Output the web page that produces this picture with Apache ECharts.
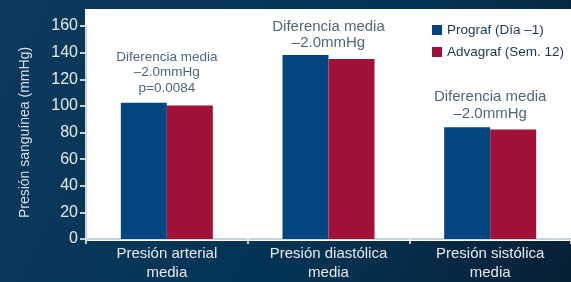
<!DOCTYPE html>
<html>
<head>
<meta charset="utf-8">
<script src="https://cdn.jsdelivr.net/npm/echarts@6/dist/echarts.min.js"></script>
<style>
  html, body { margin: 0; padding: 0; }
  #main { width: 571px; height: 282px; }
</style>
</head>
<body>
<div id="main"></div>
<script>
var categories = ['Presión arterial\nmedia', 'Presión diastólica\nmedia', 'Presión sistólica\nmedia'];
var prograf = [102.4, 138.3, 84.0];
var advagraf = [100.2, 135.3, 82.2];
var notes = ['Diferencia media\n–2.0mmHg\np=0.0084', 'Diferencia media\n–2.0mmHg', 'Diferencia media\n–2.0mmHg'];
var yTicks = [0, 160, 20];

var chartDom = document.getElementById('main');
var myChart = echarts.init(chartDom);
var font = 'Liberation Sans, Arial, sans-serif';

// note text sizes differ a bit per group in the original
var noteStyle = [
    { fontSize: 13.5, lineHeight: 15.5, distance: 7 },
    { fontSize: 15, lineHeight: 16, distance: 4 },
    { fontSize: 15, lineHeight: 17, distance: 5 }
];

var option = {
    backgroundColor: {
        type: 'linear', x: 0, y: 0, x2: 1, y2: 1,
        colorStops: [
            { offset: 0, color: '#0b3a5c' },
            { offset: 0.6, color: '#033354' },
            { offset: 1, color: '#071f35' }
        ]
    },
    textStyle: { fontFamily: font },
    graphic: [{
        type: 'rect',
        z: 0,
        shape: { x: 85, y: 9, width: 486, height: 232 },
        style: { fill: '#ffffff' },
        silent: true
    }],
    legend: {
        data: ['Prograf (Día –1)', 'Advagraf (Sem. 12)'],
        orient: 'vertical',
        left: 427,
        top: 17,
        icon: 'rect',
        itemWidth: 10,
        itemHeight: 10,
        itemGap: 6,
        textStyle: { color: '#173650', fontSize: 13.5, lineHeight: 16, fontFamily: font }
    },
    grid: { left: 86, right: 0, top: 26, bottom: 41.5 },
    xAxis: {
        type: 'category',
        data: categories,
        axisLine: { lineStyle: { color: '#b7c6d3', width: 1.5 } },
        axisTick: { show: true, length: 5, lineStyle: { color: '#ffffff', width: 1.5 } },
        axisLabel: { color: '#e6eaee', fontSize: 15, lineHeight: 19, margin: 5, fontFamily: font }
    },
    yAxis: {
        type: 'value',
        min: yTicks[0],
        max: yTicks[1],
        interval: yTicks[2],
        name: 'Presión sanguínea (mmHg)',
        nameLocation: 'middle',
        nameGap: 54,
        nameTextStyle: { color: '#d8dee4', fontSize: 14, fontFamily: font },
        axisLine: { show: true, lineStyle: { color: '#b7c6d3', width: 1.5 } },
        axisTick: { show: true, length: 6, lineStyle: { color: '#ffffff', width: 1.5 } },
        axisLabel: { color: '#e6eaee', fontSize: 16, margin: 8, fontFamily: font },
        splitLine: { show: false }
    },
    series: [
        {
            name: 'Prograf (Día –1)',
            type: 'bar',
            data: prograf,
            barWidth: 46,
            barGap: '0%',
            itemStyle: { color: '#02467f' }
        },
        {
            name: 'Advagraf (Sem. 12)',
            type: 'bar',
            data: advagraf,
            barWidth: 46,
            barGap: '0%',
            itemStyle: { color: '#a21138' }
        },
        {
            name: 'notes',
            type: 'scatter',
            silent: true,
            symbolSize: 0,
            z: 5,
            data: categories.map(function (c, i) {
                return {
                    value: [i, Math.max(prograf[i], advagraf[i])],
                    label: {
                        show: true,
                        position: 'top',
                        distance: noteStyle[i].distance,
                        formatter: notes[i],
                        color: '#22405a',
                        fontSize: noteStyle[i].fontSize,
                        lineHeight: noteStyle[i].lineHeight,
                        fontFamily: font,
                        align: 'center'
                    }
                };
            })
        }
    ]
};

myChart.setOption(option);
</script>
</body>
</html>
